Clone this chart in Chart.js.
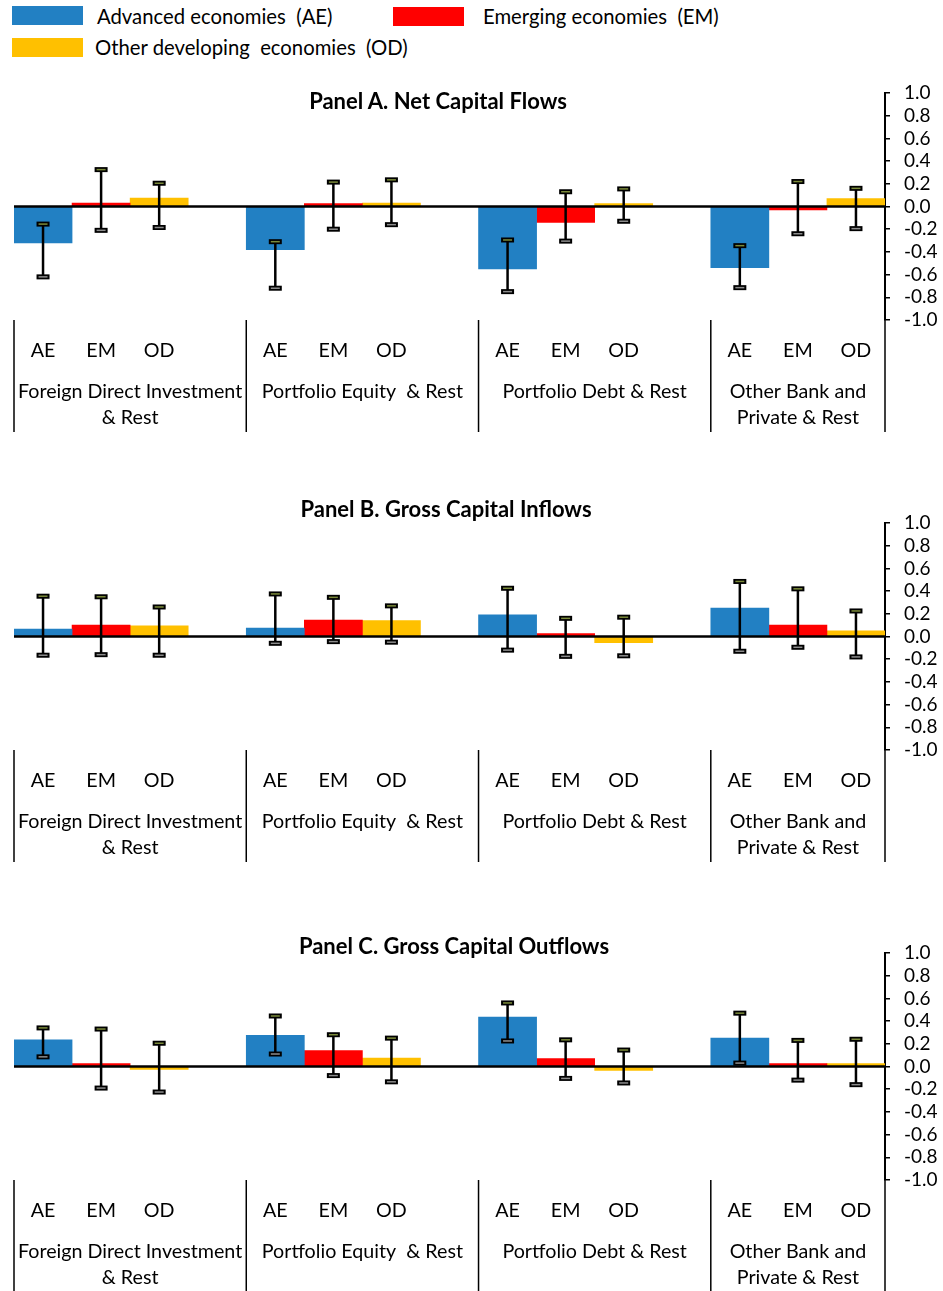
<!DOCTYPE html>
<html>
<head>
<meta charset="utf-8">
<script src="https://cdn.jsdelivr.net/npm/chart.js@4.4.0/dist/chart.umd.min.js"></script>
<style>
  html, body { margin: 0; padding: 0; background: #fff; }
  body { width: 943px; height: 1291px; position: relative; overflow: hidden; font-family: Lato, "Open Sans", sans-serif; color: #000; }
  .swatch { position: absolute; width: 71px; height: 19px; }
  .legend-text { position: absolute; font-size: 20.3px; line-height: 20px; white-space: pre; }
  .panel-title { position: absolute; font-weight: bold; font-size: 22px; white-space: nowrap; transform: translate(-50%, -50%); z-index: 2; }
  canvas { position: absolute; left: 0; }
</style>
</head>
<body>

<div class="swatch" style="left:12px; top:6px; background:#2280c3"></div>
<div class="legend-text" style="left:97px; top:6px">Advanced economies  (AE)</div>
<div class="swatch" style="left:393px; top:7px; background:#ff0000"></div>
<div class="legend-text" style="left:483px; top:6px">Emerging economies  (EM)</div>
<div class="swatch" style="left:12px; top:38px; background:#ffc000"></div>
<div class="legend-text" style="left:95px; top:37px">Other developing  economies  (OD)</div>

<div class="panel-title" style="left:438px; top:100px">Panel A. Net Capital Flows</div>
<div class="panel-title" style="left:446px; top:508px">Panel B. Gross Capital Inflows</div>
<div class="panel-title" style="left:454px; top:945px">Panel C. Gross Capital Outflows</div>

<canvas id="chartA" style="top:79px"></canvas>
<canvas id="chartB" style="top:509px"></canvas>
<canvas id="chartC" style="top:939px"></canvas>

<script>
// ---------- categories ----------
const economies = ['AE', 'EM', 'OD'];
const groupNames = [
    ['Foreign Direct Investment', '& Rest'],
    ['Portfolio Equity  & Rest'],
    ['Portfolio Debt & Rest'],
    ['Other Bank and', 'Private & Rest']
];
const seriesNames = ['Advanced economies (AE)', 'Emerging economies (EM)', 'Other developing economies (OD)'];
const seriesColors = ['#2280c3', '#ff0000', '#ffc000'];

// ---------- y axis ----------
const yMin = -1.0;
const yMax = 1.0;
const yStep = 0.2;

// ---------- Panel A: net flows (rows = AE, EM, OD ; cols = groups) ----------
const netMean = [
    [-0.32, -0.38, -0.55, -0.54],
    [0.03, 0.025, -0.14, -0.03],
    [0.075, 0.03, 0.025, 0.07]
];
const netLow = [
    [-0.62, -0.72, -0.75, -0.715],
    [-0.21, -0.20, -0.305, -0.24],
    [-0.185, -0.16, -0.13, -0.195]
];
const netHigh = [
    [-0.155, -0.31, -0.295, -0.345],
    [0.325, 0.215, 0.13, 0.22],
    [0.205, 0.235, 0.155, 0.16]
];

// ---------- Panel B: gross inflows ----------
const inMean = [
    [0.065, 0.075, 0.19, 0.25],
    [0.10, 0.145, 0.025, 0.10],
    [0.095, 0.14, -0.055, 0.05]
];
const inLow = [
    [-0.165, -0.06, -0.12, -0.13],
    [-0.16, -0.045, -0.175, -0.095],
    [-0.165, -0.05, -0.17, -0.18]
];
const inHigh = [
    [0.355, 0.375, 0.425, 0.485],
    [0.35, 0.345, 0.16, 0.42],
    [0.26, 0.27, 0.17, 0.225]
];

// ---------- Panel C: gross outflows ----------
const outMean = [
    [0.235, 0.275, 0.435, 0.25],
    [0.025, 0.14, 0.07, 0.025],
    [-0.025, 0.075, -0.035, 0.025]
];
const outLow = [
    [0.085, 0.11, 0.225, 0.03],
    [-0.19, -0.08, -0.105, -0.12],
    [-0.225, -0.135, -0.145, -0.16]
];
const outHigh = [
    [0.34, 0.445, 0.56, 0.47],
    [0.33, 0.28, 0.235, 0.23],
    [0.205, 0.25, 0.145, 0.24]
];

// ---------- slot layout: AE EM OD (blank) per group ----------
const slotsPerGroup = economies.length + 1;
const slotLabels = [];
groupNames.forEach((g, gi) => {
    economies.forEach(e => slotLabels.push(e));
    if (gi < groupNames.length - 1) slotLabels.push('');
});

function toSlots(values, s) {
    const arr = slotLabels.map(() => null);
    values.forEach((v, g) => { arr[g * slotsPerGroup + s] = v; });
    return arr;
}

const FONT = 'Lato, "Open Sans", sans-serif';
const LABEL_SIZE = 19.7;

function drawCap(ctx, x, y, fill) {
    ctx.fillStyle = '#000';
    ctx.fillRect(x - 6.5, y - 2.5, 13, 5);
    ctx.fillStyle = fill;
    ctx.fillRect(x - 4.5, y - 0.75, 9, 1.5);
}

// zero line, error bars, separators, group labels
const panelDecor = {
    id: 'panelDecor',
    afterDatasetsDraw(chart) {
        const { ctx, chartArea, scales: { x, y } } = chart;
        const p = chart.options.plugins.panelDecor;
        ctx.save();
        ctx.strokeStyle = '#000';
        ctx.lineWidth = 2.5;
        const y0 = y.getPixelForValue(0);
        ctx.beginPath();
        ctx.moveTo(chartArea.left, y0);
        ctx.lineTo(chartArea.right, y0);
        ctx.stroke();

        p.low.forEach((lows, s) => {
            lows.forEach((lo, g) => {
                const xp = x.getPixelForValue(g * slotsPerGroup + s);
                const yl = y.getPixelForValue(lo);
                const yh = y.getPixelForValue(p.high[s][g]);
                ctx.lineWidth = 2.5;
                ctx.beginPath();
                ctx.moveTo(xp, yh);
                ctx.lineTo(xp, yl);
                ctx.stroke();
                drawCap(ctx, xp, yh, '#7b8a3a');
                drawCap(ctx, xp, yl, '#8c8c8c');
            });
        });
        ctx.restore();
    },
    afterDraw(chart) {
        const { ctx, chartArea, scales: { x } } = chart;
        const slotW = x.getPixelForValue(1) - x.getPixelForValue(0);
        const edges = groupNames.map((g, gi) => x.getPixelForValue(gi * slotsPerGroup) - slotW / 2);
        edges.push(chartArea.right);

        ctx.save();
        ctx.strokeStyle = '#000';
        ctx.lineWidth = 1.5;
        edges.forEach(ex => {
            ctx.beginPath();
            ctx.moveTo(ex, chartArea.bottom);
            ctx.lineTo(ex, chartArea.bottom + 112);
            ctx.stroke();
        });

        ctx.fillStyle = '#000';
        ctx.font = LABEL_SIZE + 'px ' + FONT;
        ctx.textAlign = 'center';
        ctx.textBaseline = 'middle';
        groupNames.forEach((lines, gi) => {
            const cx = (edges[gi] + edges[gi + 1]) / 2;
            lines.forEach((t, li) => ctx.fillText(t, cx, chartArea.bottom + 72 + li * 26));
        });
        ctx.restore();
    }
};

function makePanel(id, mean, low, high) {
    const canvas = document.getElementById(id);
    canvas.width = 943;
    canvas.height = 353;
    canvas.style.width = '943px';
    canvas.style.height = '353px';

    return new Chart(canvas, {
        type: 'bar',
        data: {
            labels: slotLabels,
            datasets: mean.map((vals, s) => ({
                label: seriesNames[s],
                data: toSlots(vals, s),
                backgroundColor: seriesColors[s],
                borderWidth: 0,
                grouped: false,
                categoryPercentage: 1.0,
                barPercentage: 1.0
            }))
        },
        options: {
            responsive: false,
            animation: false,
            devicePixelRatio: 1,
            layout: { padding: { left: 14, top: 14, right: 0, bottom: 0 } },
            plugins: {
                legend: { display: false },
                title: { display: false },
                tooltip: { enabled: false },
                panelDecor: { low, high }
            },
            scales: {
                x: {
                    grid: { display: false, drawTicks: false },
                    border: { display: false },
                    ticks: {
                        autoSkip: false,
                        maxRotation: 0,
                        padding: 19,
                        color: '#000',
                        font: { family: FONT, size: LABEL_SIZE }
                    },
                    afterFit(scale) { scale.height = 112; }
                },
                y: {
                    position: 'right',
                    min: yMin,
                    max: yMax,
                    grid: { drawOnChartArea: false, drawTicks: true, tickLength: 5, color: '#000', lineWidth: 1.5 },
                    border: { display: true, color: '#000', width: 2 },
                    ticks: {
                        stepSize: yStep,
                        autoSkip: false,
                        padding: 14,
                        color: '#000',
                        font: { family: FONT, size: 19 },
                        callback: v => (Math.abs(v) < 1e-9 ? 0 : v).toFixed(1)
                    },
                    afterFit(scale) {
                        scale.width = 58;
                        scale.paddingTop = 0;
                        scale.paddingBottom = 0;
                    }
                }
            }
        },
        plugins: [panelDecor]
    });
}

makePanel('chartA', netMean, netLow, netHigh);
makePanel('chartB', inMean, inLow, inHigh);
makePanel('chartC', outMean, outLow, outHigh);
</script>
</body>
</html>
